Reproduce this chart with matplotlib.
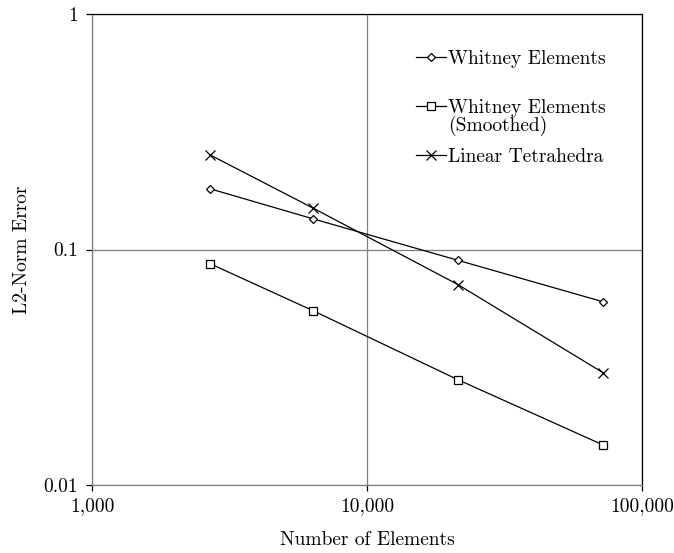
import numpy as np
import matplotlib
matplotlib.use("Agg")
import matplotlib.pyplot as plt
from matplotlib.ticker import FixedLocator, NullLocator

# =========================================================
# DATA
# =========================================================
elements = [2690, 6360, 21400, 72100]

whitney = [0.181, 0.135, 0.090, 0.060]
whitney_smoothed = [0.087, 0.055, 0.028, 0.0148]
linear_tet = [0.252, 0.150, 0.071, 0.030]

x_ticks = [1000, 10000, 100000]
x_labels = ["1,000", "10,000", "100,000"]
y_ticks = [0.01, 0.1, 1]
y_labels = ["0.01", "0.1", "1"]

# =========================================================
# STYLE
# =========================================================
plt.rcParams["font.family"] = ["cmr10", "DejaVu Serif"]
plt.rcParams["axes.formatter.use_mathtext"] = True
FS = 14
GRID = "#7f7f7f"

fig = plt.figure(figsize=(6.74, 5.53), dpi=100)
ax = fig.add_axes([92 / 674, 68 / 553, 550 / 674, 471 / 553])

ax.set_xscale("log")
ax.set_yscale("log")
ax.set_xlim(1000, 100000)
ax.set_ylim(0.01, 1)

line_kw = dict(color="black", lw=0.9, mfc="white", mec="black", mew=0.9)
ax.plot(elements, whitney, marker="D", ms=4.5, label="Whitney Elements", **line_kw)
ax.plot(elements, whitney_smoothed, marker="s", ms=5.5, label="Whitney Elements", **line_kw)
ax.plot(elements, linear_tet, marker="x", ms=7, label="Linear Tetrahedra", **line_kw)

ax.xaxis.set_major_locator(FixedLocator(x_ticks))
ax.xaxis.set_minor_locator(NullLocator())
ax.set_xticklabels(x_labels)
ax.yaxis.set_major_locator(FixedLocator(y_ticks))
ax.yaxis.set_minor_locator(NullLocator())
ax.set_yticklabels(y_labels)

ax.tick_params(direction="out", length=4, width=0.9, colors="black",
               labelsize=FS, pad=6)
ax.tick_params(axis="x", pad=5)

ax.grid(True, which="major", color=GRID, lw=0.9)
ax.set_axisbelow(True)
for side in ["left", "bottom"]:
    ax.spines[side].set_color(GRID)
for side in ["top", "right"]:
    ax.spines[side].set_color("black")
for sp in ax.spines.values():
    sp.set_linewidth(0.9)

ax.set_xlabel("Number of Elements", fontsize=FS, labelpad=11)
ax.set_ylabel("L2-Norm Error", fontsize=FS, labelpad=9)

# =========================================================
# LEGEND
# =========================================================
leg = ax.legend(loc="upper left", bbox_to_anchor=(0.575, 0.941), frameon=False,
                fontsize=FS, handlelength=1.55, handletextpad=0.12,
                labelspacing=1.6, borderaxespad=0)
# second line of the smoothed entry sits under its label
ax.annotate("(Smoothed)", xy=(0, 0), xycoords=leg.texts[1],
            xytext=(0, 0.8), textcoords="offset points",
            va="top", ha="left", fontsize=FS, zorder=10)

fig.savefig("out.png", dpi=100)
